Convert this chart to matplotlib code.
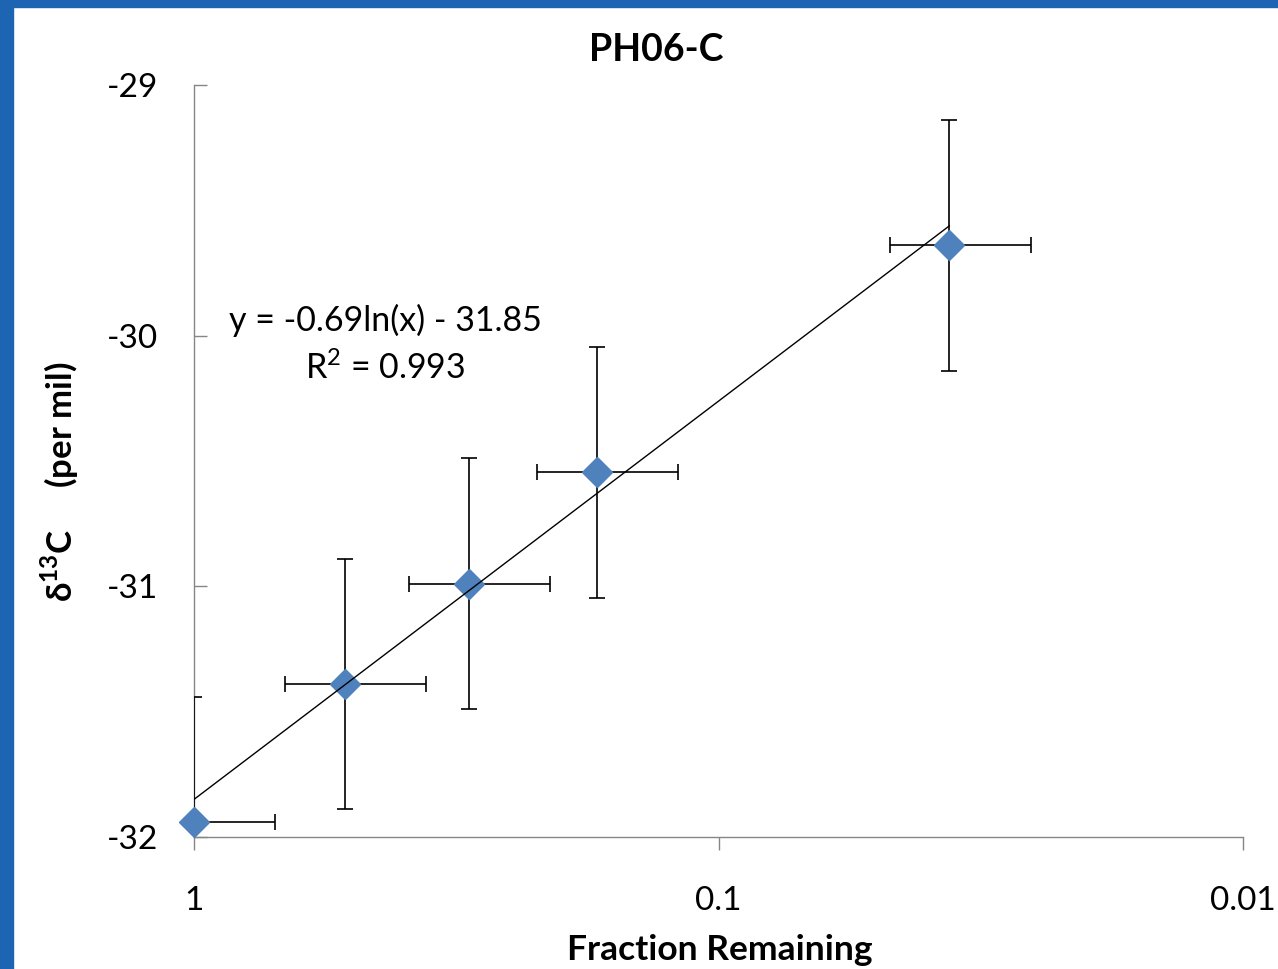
import numpy as np
import matplotlib
matplotlib.use('Agg')
import matplotlib.pyplot as plt
from matplotlib.patches import Rectangle
from matplotlib.ticker import FixedLocator, NullLocator

plt.rcParams['font.family'] = ['Lato', 'DejaVu Sans']
plt.rcParams['mathtext.fontset'] = 'custom'
plt.rcParams['mathtext.rm'] = 'Lato'
plt.rcParams['mathtext.bf'] = 'Lato:bold'

# data
frac = [1.0, 0.516, 0.2995, 0.1708, 0.0363]
d13c = [-31.94, -31.39, -30.99, -30.545, -29.64]
y_err = [0.5, 0.5, 0.5, 0.5, 0.5]
x_rel_err = 0.30          # 30 % relative error on fraction remaining
fit_a, fit_b = -0.69, -31.85
xticks = [1, 0.1, 0.01]
xtick_labels = ['1', '0.1', '0.01']
yticks = [-32, -31, -30, -29]

W, H = 1278, 969
fig = plt.figure(figsize=(W / 100, H / 100), dpi=100)
fig.patch.set_facecolor('white')

# blue frame of the slide
blue = '#1d65b3'
fig.add_artist(Rectangle((0, 0), 13 / W, 1, transform=fig.transFigure, color=blue, zorder=0))
fig.add_artist(Rectangle((0, 1 - 7 / H), 1, 7 / H, transform=fig.transFigure, color=blue, zorder=0))

ax = fig.add_axes([194 / W, 1 - 837 / H, (1243 - 194) / W, (837 - 85) / H])

x = np.array(frac)
y = np.array(d13c)
xerr = x * x_rel_err

ax.errorbar(x, y, xerr=xerr, yerr=y_err, fmt='none', ecolor='black',
            elinewidth=1.2, capsize=6, capthick=1.2, zorder=3)
ax.plot(x, y, 'D', color='#4f81bd', ms=15, mec='#4f81bd', zorder=4, clip_on=False)

xf = np.geomspace(x.max(), x.min(), 200)
ax.plot(xf, fit_a * np.log(xf) + fit_b, color='black', lw=1.0, zorder=5)

ax.set_xscale('log')
ax.set_xlim(1, 0.01)
ax.set_ylim(-32, -29)

ax.xaxis.set_major_locator(FixedLocator(xticks))
ax.set_xticklabels(xtick_labels)
ax.xaxis.set_minor_locator(NullLocator())
ax.set_yticks(yticks)
ax.set_yticklabels([str(v) for v in yticks])

for s in ['top', 'right']:
    ax.spines[s].set_visible(False)
for s in ['left', 'bottom']:
    ax.spines[s].set_color('#868686')
    ax.spines[s].set_linewidth(1.0)

ax.tick_params(axis='x', direction='out', length=9, width=1, color='#868686',
               labelsize=24, pad=26)
ax.tick_params(axis='y', direction='in', length=9, width=1, color='#868686',
               labelsize=24, pad=26)

fig.text(656 / W, 1 - 50 / H, 'PH06-C', ha='center', va='center',
         fontsize=27, fontweight='bold')
fig.text(720 / W, 1 - 950 / H, 'Fraction Remaining', ha='center', va='center',
         fontsize=25.5, fontweight='bold')
fig.text(60 / W, 1 - 482 / H, r'δ$^{\mathbf{13}}$C     (per mil)', ha='center', va='center',
         rotation=90, fontsize=25, fontweight='bold')

fig.text(385 / W, 1 - 320 / H, 'y = -0.69ln(x) - 31.85', ha='center', va='center',
         fontsize=24.5)
fig.text(385 / W, 1 - 368 / H, r'R$^2$ = 0.993', ha='center', va='center',
         fontsize=24.5)

fig.savefig('out.png', dpi=100)
